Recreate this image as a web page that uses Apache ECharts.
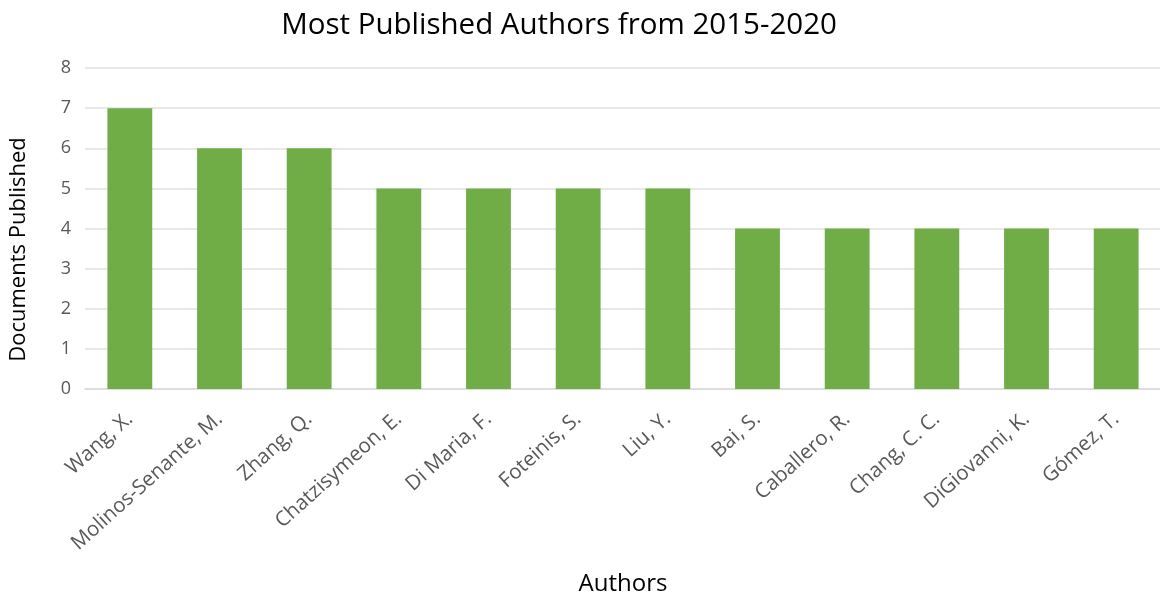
<!DOCTYPE html>
<html><head><meta charset="utf-8">
<script src="https://cdn.jsdelivr.net/npm/echarts@6/dist/echarts.min.js"></script>
<style>html,body{margin:0;padding:0;background:#fff}#c{width:1160px;height:596px}</style>
</head><body><div id="c"></div>
<script>
const authors = ["Wang, X.", "Molinos-Senante, M.", "Zhang, Q.", "Chatzisymeon, E.", "Di Maria, F.", "Foteinis, S.", "Liu, Y.", "Bai, S.", "Caballero, R.", "Chang, C. C.", "DiGiovanni, K.", "Gómez, T."];
const documents = [7, 6, 6, 5, 5, 5, 5, 4, 4, 4, 4, 4];
const yTicks = [0, 1, 2, 3, 4, 5, 6, 7, 8];

const chart = echarts.init(document.getElementById('c'));
chart.setOption({
  animation: false,
  title: {
    text: "Most Published Authors from 2015-2020",
    left: 554, top: 6, textAlign: 'center',
    textStyle: {fontFamily: 'Open Sans', fontSize: 29.5, fontWeight: 'normal', color: '#000'}
  },
  grid: {left: 85, top: 68, width: 1076, height: 321, containLabel: false, outerBoundsMode: 'none'},
  xAxis: {
    type: 'category', data: authors,
    name: 'Authors', nameLocation: 'middle', nameGap: 183,
    nameTextStyle: {fontFamily: 'Open Sans', fontSize: 24, color: '#000'},
    axisLine: {show: true, lineStyle: {color: '#d9d9d9', width: 1.5}},
    axisTick: {show: false},
    axisLabel: {rotate: 42, margin: 27, interval: 0, fontFamily: 'Open Sans', fontSize: 20.5, color: '#595959'}
  },
  yAxis: {
    type: 'value', min: 0, max: 8, interval: 1,
    name: 'Documents Published', nameLocation: 'middle', nameGap: 55,
    nameTextStyle: {fontFamily: 'Open Sans', fontSize: 22, color: '#000', padding: [0, 42, 0, 0]},
    axisLine: {show: false}, axisTick: {show: false},
    axisLabel: {margin: 14, fontFamily: 'Open Sans', fontSize: 18, color: '#595959',
      formatter: v => yTicks.includes(v) ? String(v) : ''},
    splitLine: {lineStyle: {color: '#e0e0e0', width: 1.5}}
  },
  series: [{
    type: 'bar', data: documents, barWidth: '50%',
    itemStyle: {color: '#70AD47'}
  }]
});
</script></body></html>
